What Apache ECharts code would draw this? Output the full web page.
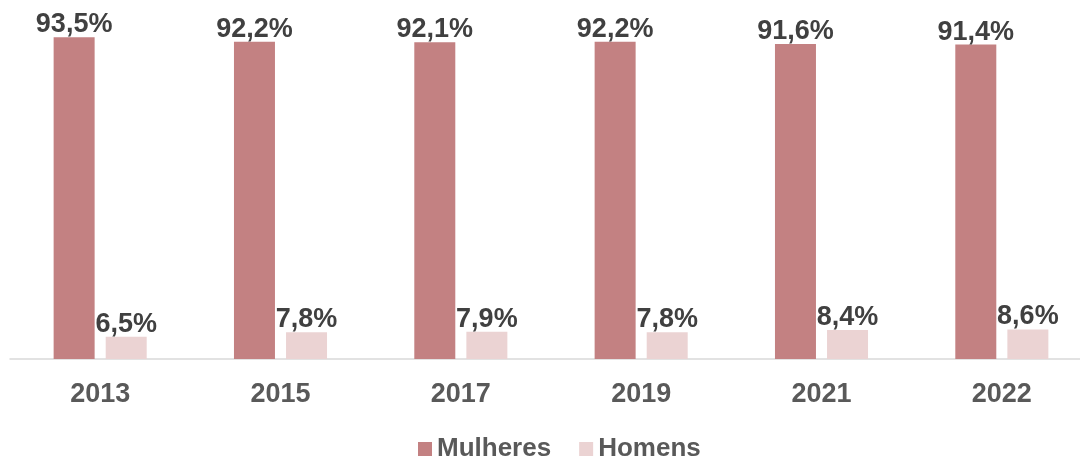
<!DOCTYPE html>
<html>
<head>
<meta charset="utf-8">
<script src="https://cdn.jsdelivr.net/npm/echarts@6/dist/echarts.min.js"></script>
<style>
  html, body { margin: 0; padding: 0; background: #fff; }
  #chart { width: 1080px; height: 460px; }
</style>
</head>
<body>
<div id="chart"></div>
<script>
  const years = ['2013', '2015', '2017', '2019', '2021', '2022'];
  const mulheres = [93.5, 92.2, 92.1, 92.2, 91.6, 91.4];
  const homens = [6.5, 7.8, 7.9, 7.8, 8.4, 8.6];

  const chart = echarts.init(document.getElementById('chart'));
  const fmt = function (p) {
    return p.value.toFixed(1).replace('.', ',') + '%';
  };
  const labelStyle = {
    show: true,
    position: 'top',
    distance: -1,
    formatter: fmt,
    fontFamily: 'Liberation Sans',
    fontWeight: 'bold',
    fontSize: 27,
    color: '#404040'
  };

  const option = {
    animation: false,
    textStyle: { fontFamily: 'Liberation Sans' },
    grid: {
      left: 10,
      right: -12,
      top: 15,
      bottom: 101,
      outerBoundsMode: 'none'
    },
    legend: {
      left: 413,
      top: 431,
      icon: 'rect',
      itemWidth: 14,
      itemHeight: 14,
      itemGap: 28,
      textStyle: {
        fontFamily: 'Liberation Sans',
        fontWeight: 'bold',
        fontSize: 26,
        color: '#595959'
      },
      data: ['Mulheres', 'Homens']
    },
    xAxis: {
      type: 'category',
      data: years,
      axisLine: { lineStyle: { color: '#d9d9d9', width: 1.5 } },
      axisTick: { show: false },
      axisLabel: {
        margin: 22,
        fontFamily: 'Liberation Sans',
        fontWeight: 'bold',
        fontSize: 27,
        color: '#595959'
      }
    },
    yAxis: {
      type: 'value',
      min: 0,
      max: 100,
      show: false,
      splitLine: { show: false }
    },
    series: [
      {
        name: 'Mulheres',
        type: 'bar',
        data: mulheres,
        barWidth: 41,
        barGap: '27%',
        itemStyle: { color: '#c38182' },
        label: labelStyle
      },
      {
        name: 'Homens',
        type: 'bar',
        data: homens,
        barWidth: 41,
        barGap: '27%',
        itemStyle: { color: '#ebd3d3' },
        label: labelStyle
      }
    ]
  };
  chart.setOption(option);
</script>
</body>
</html>
